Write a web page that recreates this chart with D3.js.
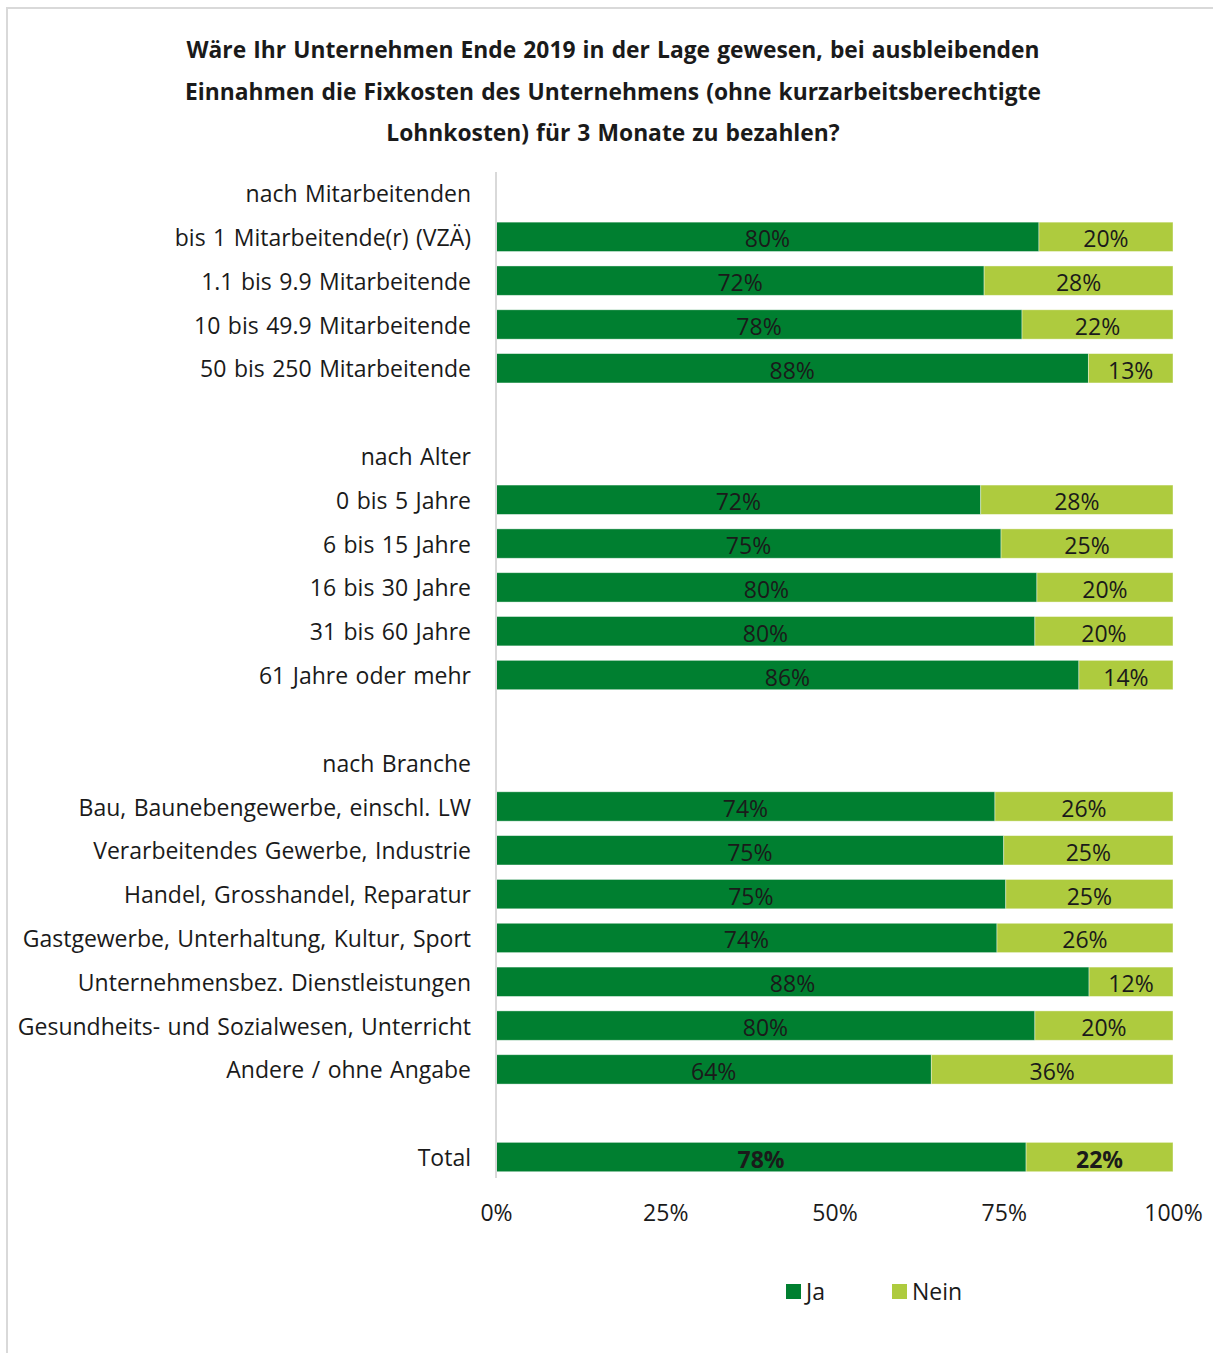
<!DOCTYPE html>
<html>
<head>
<meta charset="utf-8">
<script src="https://cdn.jsdelivr.net/npm/d3@7"></script>
<style>
  html, body { margin: 0; padding: 0; background: #fff; }
  svg { display: block; font-family: "Open Sans", "Noto Sans", sans-serif; }
</style>
</head>
<body>
<svg id="chart" width="1213" height="1353"></svg>
<script>
// Rows from top to bottom; null marks an empty spacer row, kind tells how a row is drawn.
const rowLabels = [
  "nach Mitarbeitenden",
  "bis 1 Mitarbeitende(r) (VZÄ)",
  "1.1 bis 9.9 Mitarbeitende",
  "10 bis 49.9 Mitarbeitende",
  "50 bis 250 Mitarbeitende",
  null,
  "nach Alter",
  "0 bis 5 Jahre",
  "6 bis 15 Jahre",
  "16 bis 30 Jahre",
  "31 bis 60 Jahre",
  "61 Jahre oder mehr",
  null,
  "nach Branche",
  "Bau, Baunebengewerbe, einschl. LW",
  "Verarbeitendes Gewerbe, Industrie",
  "Handel, Grosshandel, Reparatur",
  "Gastgewerbe, Unterhaltung, Kultur, Sport",
  "Unternehmensbez. Dienstleistungen",
  "Gesundheits- und Sozialwesen, Unterricht",
  "Andere / ohne Angabe",
  null,
  "Total"
];
const rowKinds = [
  "header", "bar", "bar", "bar", "bar", "gap",
  "header", "bar", "bar", "bar", "bar", "bar", "gap",
  "header", "bar", "bar", "bar", "bar", "bar", "bar", "bar", "gap",
  "total"
];
// Shares in percent for each row (null where the row has no bar)
const jaValues = [
  null, 80.2, 72.1, 77.7, 87.5, null,
  null, 71.6, 74.6, 79.9, 79.6, 86.1, null,
  null, 73.7, 75.0, 75.3, 74.0, 87.6, 79.6, 64.3, null,
  78.3
];
const neinValues = [
  null, 19.8, 27.9, 22.3, 12.5, null,
  null, 28.4, 25.4, 20.1, 20.4, 13.9, null,
  null, 26.3, 25.0, 24.7, 26.0, 12.4, 20.4, 35.7, null,
  21.7
];
const seriesNames = ["Ja", "Nein"];
const xTicks = [0, 25, 50, 75, 100];
const titleLines = [
  "Wäre Ihr Unternehmen Ende 2019 in der Lage gewesen, bei ausbleibenden",
  "Einnahmen die Fixkosten des Unternehmens (ohne kurzarbeitsberechtigte",
  "Lohnkosten) für 3 Monate zu bezahlen?"
];

const colors = { Ja: "#007f30", Nein: "#aecb3e" };
const textColor = "#1a1a1a";
const gridColor = "#d9d9d9";
const fontSize = 23;

const svg = d3.select("#chart");

// Outer frame
svg.append("rect")
  .attr("x", 7).attr("y", 8)
  .attr("width", 1220).attr("height", 1360)
  .attr("fill", "none").attr("stroke", gridColor).attr("stroke-width", 2);

// Title
svg.append("g").selectAll("text")
  .data(titleLines).join("text")
  .attr("x", 613)
  .attr("y", (d, i) => 58 + i * 41.5)
  .attr("text-anchor", "middle")
  .attr("font-size", 22.8)
  .attr("font-weight", "bold")
  .attr("word-spacing", 1.2)
  .attr("fill", textColor)
  .text(d => d);

// Scales
const plotLeft = 496, plotRight = 1173;
const x = d3.scaleLinear().domain([0, 100]).range([plotLeft, plotRight]);
const rowIdx = d3.range(rowLabels.length);
const step = 43.82;
const firstCenter = 193;
const y = d3.scaleBand()
  .domain(rowIdx)
  .range([firstCenter - step / 2, firstCenter - step / 2 + step * rowLabels.length])
  .paddingInner(0.33).paddingOuter(0.165);

// Category labels
svg.append("g").selectAll("text")
  .data(rowIdx.filter(i => rowLabels[i] !== null)).join("text")
  .attr("x", 471)
  .attr("y", i => y(i) + y.bandwidth() / 2 + 1)
  .attr("dy", "0.35em")
  .attr("text-anchor", "end")
  .attr("font-size", fontSize)
  .attr("word-spacing", 1.5)
  .attr("fill", textColor)
  .text(i => rowLabels[i]);

// Stacked bars
const barRows = rowIdx.filter(i => jaValues[i] !== null);
const segs = [];
barRows.forEach(i => {
  segs.push({ row: i, name: "Ja", x0: 0, x1: jaValues[i], v: jaValues[i] });
  segs.push({ row: i, name: "Nein", x0: jaValues[i], x1: jaValues[i] + neinValues[i], v: neinValues[i] });
});

const barG = svg.append("g");
barG.selectAll("rect")
  .data(segs).join("rect")
  .attr("x", d => x(d.x0))
  .attr("width", d => x(d.x1) - x(d.x0))
  .attr("y", d => y(d.row))
  .attr("height", y.bandwidth())
  .attr("fill", d => colors[d.name])
  .attr("stroke", "#ffffff")
  .attr("stroke-opacity", 0.5)
  .attr("stroke-width", 0.8);

barG.selectAll("text")
  .data(segs).join("text")
  .attr("x", d => (x(d.x0) + x(d.x1)) / 2)
  .attr("y", d => y(d.row) + y.bandwidth() / 2 + 2.5)
  .attr("dy", "0.35em")
  .attr("text-anchor", "middle")
  .attr("font-size", fontSize)
  .attr("font-weight", d => rowKinds[d.row] === "total" ? "bold" : "normal")
  .attr("fill", textColor)
  .text(d => Math.round(d.v) + "%");

// Vertical category axis line
svg.append("line")
  .attr("x1", x(0)).attr("x2", x(0))
  .attr("y1", 172).attr("y2", 1178)
  .attr("stroke", gridColor).attr("stroke-width", 2);

// X axis tick labels
const xAxis = d3.axisBottom(x)
  .tickValues(xTicks)
  .tickFormat(d => d + "%")
  .tickSize(0)
  .tickPadding(0);
const xg = svg.append("g")
  .attr("transform", "translate(0,1205)")
  .call(xAxis);
xg.select(".domain").remove();
xg.selectAll("text")
  .attr("font-family", "'Open Sans', 'Noto Sans', sans-serif")
  .attr("font-size", fontSize)
  .attr("fill", textColor)
  .attr("dy", "0.71em");

// Legend
const legendX = [786, 892];
const lg = svg.append("g").selectAll("g")
  .data(seriesNames).join("g")
  .attr("transform", (d, i) => `translate(${legendX[i]},1284)`);
lg.append("rect")
  .attr("width", 15).attr("height", 15)
  .attr("fill", d => colors[d]);
lg.append("text")
  .attr("x", 20).attr("y", 7.5)
  .attr("dy", "0.35em")
  .attr("font-size", fontSize)
  .attr("fill", textColor)
  .text(d => d);
</script>
</body>
</html>
